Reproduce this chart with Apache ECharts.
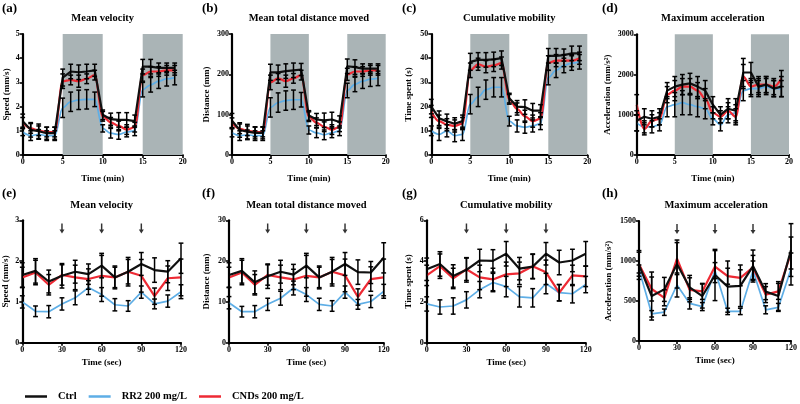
<!DOCTYPE html>
<html><head><meta charset="utf-8">
<script src="https://cdn.jsdelivr.net/npm/echarts@6/dist/echarts.min.js"></script>
<style>html,body{margin:0;padding:0;background:#fff}#c{width:800px;height:404px}</style>
</head><body><div id="c"></div>
<script>
// ---------- data ----------
const minutes = [0,1,2,3,4,5,6,7,8,9,10,11,12,13,14,15,16,17,18,19];
const seconds = [0,10,20,30,40,50,60,70,80,90,100,110,120];
const darkPeriods = [[5,10],[15,20]];
const arrowTimes = [30,60,90];

// (a) Mean velocity (mm/s)
const aCtrl = [1.39,1.04,0.98,0.9,0.9,3.2,3.45,3.42,3.45,3.5,1.66,1.48,1.45,1.45,1.4,3.65,3.65,3.6,3.6,3.6];
const aRR2  = [0.95,0.8,0.85,0.8,0.8,1.95,2.2,2.28,2.3,2.3,1.1,0.9,0.85,0.95,1.0,2.7,2.9,3.05,3.15,3.2];
const aCND  = [1.35,1.1,1.0,0.95,0.95,3.05,3.1,3.05,3.15,3.3,1.6,1.35,1.2,1.05,1.15,3.3,3.45,3.45,3.5,3.5];
const aCtrlErr = [0.3,0.3,0.3,0.25,0.25,0.35,0.3,0.3,0.3,0.25,0.2,0.25,0.3,0.3,0.25,0.3,0.3,0.2,0.2,0.2];
const aRR2Err  = [0.15,0.2,0.2,0.2,0.2,0.4,0.4,0.4,0.4,0.3,0.15,0.2,0.2,0.2,0.2,0.3,0.3,0.3,0.3,0.3];
const aCNDErr  = [0.2,0.2,0.2,0.2,0.2,0.3,0.2,0.25,0.2,0.2,0.2,0.2,0.2,0.2,0.2,0.25,0.2,0.2,0.2,0.2];

// (b) Mean total distance moved (mm)
const bCtrl = [85,62,58,55,55,205,205,208,210,212,98,88,86,88,82,220,218,214,214,214];
const bRR2  = [55,48,50,48,48,118,130,135,137,137,62,55,50,55,60,160,175,183,188,190];
const bCND  = [80,65,60,57,57,180,190,183,190,198,95,80,70,63,70,200,207,207,210,210];
const bCtrlErr = [18,18,18,15,15,20,18,18,18,15,12,15,18,18,15,18,18,12,12,12];
const bRR2Err  = [10,12,12,12,12,24,24,24,24,18,10,12,12,12,12,18,18,18,18,18];
const bCNDErr  = [12,12,12,12,12,18,12,15,12,12,12,12,12,12,12,15,12,12,12,12];

// (c) Cumulative mobility (s)
const cCtrl = [20,15.2,13.9,12.9,14,38.5,39.3,39.3,39.5,40,23.5,20,19.8,18.3,18.3,41,41,41.3,42,42];
const cRR2  = [10,8.5,10,8,8.5,21,24,27,28,28,14,12,11.5,12,13,32,35,37,38,38.5];
const cCND  = [18,14,12.5,12,13,35,37.5,36.5,37,38,23,19,16,14,15,38,39,39,39,40];
const cCtrlErr = [3,3,3,2.5,2.5,3.5,3,3,3,3,2,2.5,3,3,2.5,3,3,2.5,3,3];
const cRR2Err  = [2,2.5,2.5,2.5,2.5,4,4,4,4,4,2,2.5,2.5,2.5,2.5,3,3,3,3,3];
const cCNDErr  = [2.5,2.5,2.5,2.5,2.5,3,2.5,2.5,2.5,2.5,2,2.5,2.5,2.5,2.5,3,2.5,2.5,2.5,2.5];

// (d) Maximum acceleration (mm/s2)
const dCtrl = [850,950,900,950,1600,1700,1750,1780,1700,1600,1250,1000,1150,1100,2050,2050,1700,1750,1650,1700];
const dRR2  = [800,700,700,750,1200,1250,1300,1250,1200,1150,900,750,1000,1050,1600,1650,1650,1700,1650,1650];
const dCND  = [1250,650,850,900,1500,1600,1700,1700,1600,1400,1050,950,1100,950,1950,1700,1750,1750,1700,1900];
const dCtrlErr = [250,200,200,200,200,250,250,250,250,250,200,200,250,300,350,250,200,200,200,250];
const dRR2Err  = [200,150,150,150,250,300,300,250,250,250,150,150,200,200,250,200,200,200,200,200];
const dCNDErr  = [250,150,150,150,200,250,200,200,200,250,150,150,200,200,300,200,200,200,200,200];

// (e) Mean velocity (mm/s)
const eCtrl = [1.66,1.76,1.5,1.64,1.74,1.68,1.89,1.6,1.74,1.93,1.78,1.74,2.07];
const eRR2  = [1.0,0.77,0.76,0.95,1.1,1.35,1.18,0.93,0.9,1.24,0.95,1.02,1.25];
const eCND  = [1.6,1.72,1.42,1.66,1.6,1.56,1.64,1.6,1.74,1.64,1.14,1.58,1.6];
const eCtrlErr = [0.3,0.3,0.28,0.3,0.28,0.25,0.3,0.28,0.35,0.28,0.3,0.27,0.37];
const eRR2Err  = [0.15,0.13,0.15,0.15,0.17,0.17,0.17,0.15,0.13,0.15,0.12,0.15,0.17];
const eCNDErr  = [0.25,0.3,0.25,0.25,0.3,0.25,0.5,0.25,0.3,0.4,0.2,0.3,0.45];

// (f) Mean total distance moved (mm)
const fCtrl = [16.6,17.6,14.8,16.3,17.4,16.7,18.9,16.0,17.4,19.3,17.3,17.2,20.8];
const fRR2  = [9.8,7.6,7.6,9.4,10.9,13.4,11.8,9.4,9.0,12.4,9.4,10.1,12.6];
const fCND  = [16,17.2,14.2,16.6,16,15.5,16.4,16,17.4,16.5,11.2,15.6,16];
const fCtrlErr = [3,3,2.8,3,2.8,2.5,3,2.8,3.5,2.8,3,2.7,3.7];
const fRR2Err  = [1.5,1.3,1.5,1.5,1.7,1.7,1.7,1.5,1.3,1.5,1.2,1.5,1.7];
const fCNDErr  = [2.5,3,2.5,2.5,3,2.5,5,2.5,3,4,2,3,4.5];

// (g) Cumulative mobility (s)
const gCtrl = [3.6,3.86,3.27,3.57,4.03,4.01,4.36,3.63,3.73,4.36,3.93,4.03,4.36];
const gRR2  = [1.9,1.75,1.8,2.1,2.6,2.95,2.75,2.25,2.2,2.9,2.45,2.4,2.85];
const gCND  = [3.3,3.75,3.15,3.6,3.2,3.1,3.35,3.4,3.75,3.45,2.45,3.3,3.25];
const gCtrlErr = [0.55,0.6,0.55,0.6,0.55,0.55,0.6,0.55,0.6,0.55,0.6,0.55,0.6];
const gRR2Err  = [0.35,0.35,0.4,0.4,0.4,0.45,0.5,0.5,0.45,0.5,0.4,0.45,0.4];
const gCNDErr  = [0.5,0.6,0.5,0.55,0.6,0.55,0.6,0.55,0.6,0.6,0.4,0.5,0.5];

// (h) Maximum acceleration (mm/s2)
const hCtrl = [950,562,645,962,670,562,825,680,690,937,617,562,1137];
const hRR2  = [900,340,360,700,470,430,880,370,370,880,390,420,900];
const hCND  = [960,650,540,1030,640,620,930,810,790,920,580,620,1100];
const hCtrlErr = [180,300,150,300,150,150,320,320,260,200,100,180,330];
const hRR2Err  = [50,40,40,150,70,50,100,40,40,120,50,50,200];
const hCNDErr  = [150,150,100,200,150,100,200,100,100,150,100,100,200];

const seriesNames = ['Ctrl','RR2 200 mg/L','CNDs 200 mg/L'];
const seriesColors = ['#111111','#5eaee6','#ee2a34'];

// ---------- layout ----------
const FONT = 'Liberation Serif';
const panels = [
  {label:'(a)', title:'Mean velocity', yName:'Speed (mm/s)', x:minutes, ymax:5, yint:1, xmax:20, xint:5, xName:'Time (min)',
   d:[aCtrl,aRR2,aCND], e:[aCtrlErr,aRR2Err,aCNDErr], grid:{left:22.7,top:34,width:160,height:121}, yGap:12, top:true},
  {label:'(b)', title:'Mean total distance moved', yName:'Distance (mm)', x:minutes, ymax:300, yint:100, xmax:20, xint:5, xName:'Time (min)',
   d:[bCtrl,bRR2,bCND], e:[bCtrlErr,bRR2Err,bCNDErr], grid:{left:232,top:34,width:153.7,height:121}, yGap:21, top:true},
  {label:'(c)', title:'Cumulative mobility', yName:'Time spent (s)', x:minutes, ymax:50, yint:10, xmax:20, xint:5, xName:'Time (min)',
   d:[cCtrl,cRR2,cCND], e:[cCtrlErr,cRR2Err,cCNDErr], grid:{left:431.3,top:34,width:156,height:121}, yGap:18, top:true},
  {label:'(d)', title:'Maximum acceleration', yName:'Acceleration (mm/s²)', x:minutes, ymax:3000, yint:1000, xmax:20, xint:5, xName:'Time (min)',
   d:[dCtrl,dRR2,dCND], e:[dCtrlErr,dRR2Err,dCNDErr], grid:{left:636.7,top:34.3,width:152.3,height:120.7}, yGap:25, top:true},
  {label:'(e)', title:'Mean velocity', yName:'Speed (mm/s)', x:seconds, ymax:3, yint:1, xmax:120, xint:30, xName:'Time (sec)', arrowY:2.8,
   d:[eCtrl,eRR2,eCND], e:[eCtrlErr,eRR2Err,eCNDErr], grid:{left:22.3,top:220.3,width:158.7,height:122.4}, yGap:12, top:false},
  {label:'(f)', title:'Mean total distance moved', yName:'Distance (mm)', x:seconds, ymax:30, yint:10, xmax:120, xint:30, xName:'Time (sec)', arrowY:28,
   d:[fCtrl,fRR2,fCND], e:[fCtrlErr,fRR2Err,fCNDErr], grid:{left:229,top:220.3,width:154.7,height:122.4}, yGap:18, top:false},
  {label:'(g)', title:'Cumulative mobility', yName:'Time spent (s)', x:seconds, ymax:6, yint:2, xmax:120, xint:30, xName:'Time (sec)', arrowY:5.6,
   d:[gCtrl,gRR2,gCND], e:[gCtrlErr,gRR2Err,gCNDErr], grid:{left:426.7,top:220.3,width:159,height:122.4}, yGap:14, top:false},
  {label:'(h)', title:'Maximum acceleration', yName:'Acceleration (mm/s²)', x:seconds, ymax:1500, yint:500, xmax:120, xint:30, xName:'Time (sec)', arrowY:1400,
   d:[hCtrl,hRR2,hCND], e:[hCtrlErr,hRR2Err,hCNDErr], grid:{left:639,top:221,width:154.3,height:120}, yGap:26, top:false}
];

const grids=[], xAxes=[], yAxes=[], series=[], graphics=[];
const axisCommon = {
  axisLine:{show:true, onZero:false, lineStyle:{color:'#000', width:2.2}},
  axisTick:{show:true, length:3, lineStyle:{color:'#000', width:1.6}},
  axisLabel:{color:'#000', fontFamily:FONT, fontWeight:'bold', fontSize:8, margin:3, formatter:v=>String(v)},
  splitLine:{show:false},
  nameTextStyle:{color:'#000', fontFamily:FONT, fontWeight:'bold', fontSize:9}
};
const ARROW = 'path://M-0.7,0 L0.7,0 L0.7,6 L2.4,6 L0,10 L-2.4,6 L-0.7,6 Z';

function errRender(params, api){
  const x = api.value(0), y = api.value(1), e = api.value(2);
  const t = api.coord([x, y+e]), b = api.coord([x, y-e]);
  const w = 2.4, st = {stroke:'#000', lineWidth:1.5};
  return {type:'group', children:[
    {type:'line', shape:{x1:t[0],y1:t[1],x2:b[0],y2:b[1]}, style:st},
    {type:'line', shape:{x1:t[0]-w,y1:t[1],x2:t[0]+w,y2:t[1]}, style:st},
    {type:'line', shape:{x1:b[0]-w,y1:b[1],x2:b[0]+w,y2:b[1]}, style:st}
  ]};
}

panels.forEach((p,i)=>{
  const g = p.grid;
  grids.push({left:g.left, top:g.top, width:g.width, height:g.height});
  xAxes.push(Object.assign({}, axisCommon, {type:'value', gridIndex:i, min:0, max:p.xmax, interval:p.xint,
    name:p.xName, nameLocation:'middle', nameGap:p.top?19:15}));
  yAxes.push(Object.assign({}, axisCommon, {type:'value', gridIndex:i, min:0, max:p.ymax, interval:p.yint,
    name:p.yName, nameLocation:'middle', nameRotate:90, nameGap:p.yGap}));
  graphics.push({type:'text', x:g.left + g.width/2, y:p.top?18:205, style:{text:p.title, font:'bold 10.5px '+FONT, fill:'#000', textAlign:'center', textVerticalAlign:'middle'}});
  graphics.push({type:'text', x:[2,202,402,602][i%4], y:p.top?9:194, style:{text:p.label, font:'bold 13px '+FONT, fill:'#000', textAlign:'left', textVerticalAlign:'middle'}});
  [1,2,0].forEach(k=>{
    const s = {type:'line', name:seriesNames[k], xAxisIndex:i, yAxisIndex:i,
      data:p.x.map((xv,j)=>[xv,p.d[k][j]]), showSymbol:false, symbol:'none',
      smooth: p.top && k!==0 ? 0.35 : false, smoothMonotone:'x',
      lineStyle:{color:seriesColors[k], width:k===1?1.7:2.2}, itemStyle:{color:seriesColors[k]}, z:2+(k===0?2:(k===2?1:0)), silent:true};
    if (p.top && k===1){
      s.markArea = {silent:true, itemStyle:{color:'#aab4b6'}, data:darkPeriods.map(r=>[{xAxis:r[0]},{xAxis:r[1]}])};
    }
    series.push(s);
  });
  [1,2,0].forEach(k=>{
    series.push({type:'custom', name:'err', xAxisIndex:i, yAxisIndex:i, renderItem:errRender, z:6, silent:true,
      encode:{x:0, y:1}, data:p.x.map((xv,j)=>[xv,p.d[k][j],p.e[k][j]])});
  });
  if (!p.top){
    series.push({type:'scatter', name:'arrow', xAxisIndex:i, yAxisIndex:i, symbol:ARROW, symbolSize:[5,10], silent:true,
      itemStyle:{color:'#000'}, data:arrowTimes.map(t=>[t,p.arrowY]), z:7});
  }
});

const chart = echarts.init(document.getElementById('c'), null, {renderer:'canvas'});
chart.setOption({
  animation:false,
  backgroundColor:'#fff',
  grid:grids, xAxis:xAxes, yAxis:yAxes, series:series, graphic:graphics,
  legend:{data:seriesNames, left:20, top:386, icon:'rect', itemWidth:22, itemHeight:2.5, itemGap:12,
    textStyle:{color:'#000', fontFamily:FONT, fontWeight:'bold', fontSize:10.5, padding:[0,0,0,6]}, selectedMode:false}
});
</script></body></html>
